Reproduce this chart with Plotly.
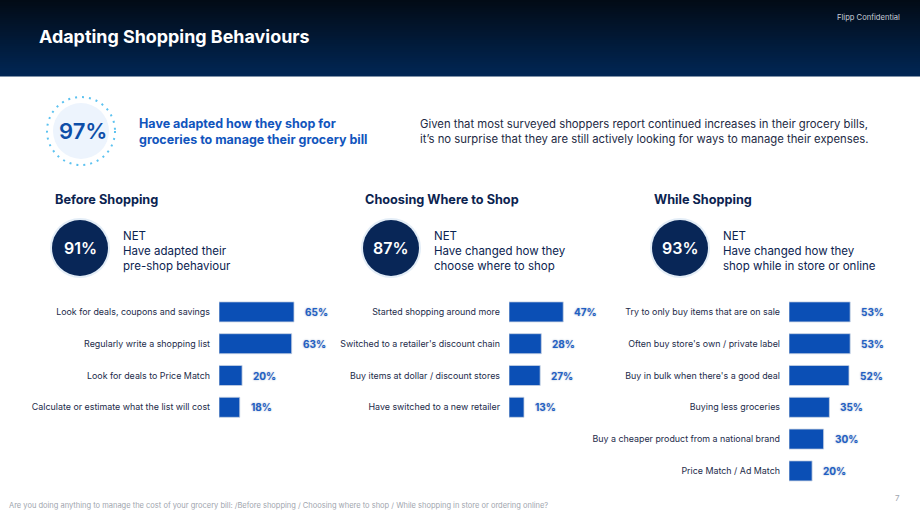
import plotly.graph_objects as go

W, H = 920, 518

# ---------------- data ----------------
before_cats = ["Look for deals, coupons and savings", "Regularly write a shopping list",
               "Look for deals to Price Match", "Calculate or estimate what the list will cost"]
before_vals = [65, 63, 20, 18]

where_cats = ["Started shopping around more", "Switched to a retailer's discount chain",
              "Buy items at dollar / discount stores", "Have switched to a new retailer"]
where_vals = [47, 28, 27, 13]

while_cats = ["Try to only buy items that are on sale", "Often buy store's own / private label",
              "Buy in bulk when there's a good deal", "Buying less groceries",
              "Buy a cheaper product from a national brand", "Price Match / Ad Match"]
while_vals = [53, 53, 52, 35, 30, 20]

panel_titles = ["Before Shopping", "Choosing Where to Shop", "While Shopping"]
net_vals = [91, 87, 93]
net_texts = [["NET", "Have adapted their", "pre-shop behaviour"],
             ["NET", "Have changed how they", "choose where to shop"],
             ["NET", "Have changed how they", "shop while in store or online"]]
overall_val = 97

FONT = "Inter"
NAVY = "#0b2350"
BAR = "#0b4fb5"
LBL = "#1f5fc4"

def px(x):
    return x / W

def py(y):
    return 1 - y / H

fig = go.Figure()

panels = [(before_cats, before_vals, 219), (where_cats, where_vals, 509), (while_cats, while_vals, 789)]
pitch = 31.8
top = 296
scale = 1.154  # px per percent
annotations = []
for i, (cats, vals, x0) in enumerate(panels):
    n = len(cats)
    xa = "x" if i == 0 else f"x{i+1}"
    ya = "y" if i == 0 else f"y{i+1}"
    fig.add_trace(go.Bar(x=vals, y=cats, orientation="h", xaxis=xa, yaxis=ya,
                         marker=dict(color=BAR, line=dict(color="#c8d2e2", width=0.8)),
                         width=0.63, hoverinfo="skip", showlegend=False))
    lay_x = "xaxis" if i == 0 else f"xaxis{i+1}"
    lay_y = "yaxis" if i == 0 else f"yaxis{i+1}"
    fig.layout[lay_x] = dict(domain=[px(x0), px(x0 + 100 * scale)], range=[0, 100],
                             visible=False, fixedrange=True)
    fig.layout[lay_y] = dict(domain=[py(top + n * pitch), py(top)], type="category",
                             categoryorder="array", categoryarray=cats[::-1],
                             showgrid=False, zeroline=False, showline=False,
                             ticks="", ticklabelstandoff=8, anchor=xa,
                             tickfont=dict(family=FONT, size=8.9, color="#1c2b4a"),
                             fixedrange=True)
    for c, v in zip(cats, vals):
        annotations.append(dict(x=v, y=c, xref=xa, yref=ya, text=f"<b>{v}%</b>",
                                xanchor="left", xshift=9, showarrow=False,
                                font=dict(family=FONT, size=10, color=LBL,
                                          shadow="0px 0px 2px #9fb0c8")))

shapes = []
# header gradient
c_top = (2, 11, 22)
c_bot = (1, 38, 84)
nb = 38
hh = 76
for k in range(nb):
    t = k / (nb - 1)
    col = tuple(int(round(c_top[j] + (c_bot[j] - c_top[j]) * t)) for j in range(3))
    shapes.append(dict(type="rect", xref="paper", yref="paper",
                       x0=0, x1=1, y0=py(hh * (k + 1) / nb + 0.5), y1=py(hh * k / nb),
                       fillcolor="rgb(%d,%d,%d)" % col, line=dict(width=0), layer="below"))

# big 97% circle
cx, cy = 81, 131
shapes.append(dict(type="circle", xref="paper", yref="paper",
                   x0=px(cx - 28), x1=px(cx + 28), y0=py(cy + 28), y1=py(cy - 28),
                   fillcolor="#edf4fd", line=dict(width=0)))
shapes.append(dict(type="circle", xref="paper", yref="paper",
                   x0=px(cx - 34), x1=px(cx + 34), y0=py(cy + 34), y1=py(cy - 34),
                   fillcolor="rgba(0,0,0,0)", line=dict(width=2, color="#5cc2f0", dash="2px,5px")))

annotations.append(dict(x=px(cx + 2), y=py(cy), xref="paper", yref="paper", text=f"{overall_val}%",
                        showarrow=False, xanchor="center", yanchor="middle",
                        font=dict(family=FONT, size=22, color="#0d4ea8", weight=600)))
annotations.append(dict(x=px(137), y=py(132), xref="paper", yref="paper",
                        text="<b>Have adapted how they shop for<br>groceries to manage their grocery bill</b>",
                        showarrow=False, xanchor="left", yanchor="middle", align="left",
                        font=dict(family=FONT, size=12.5, color="#1155bd")))
annotations.append(dict(x=px(418), y=py(131), xref="paper", yref="paper",
                        text="Given that most surveyed shoppers report continued increases in their grocery bills,<br>"
                             "it\u2019s no surprise that they are still actively looking for ways to manage their expenses.",
                        showarrow=False, xanchor="left", yanchor="middle", align="left",
                        font=dict(family=FONT, size=11.3, color="#1d2a44")))

# panel headers and NET circles
hx = [53, 363, 652]
ncx = [80, 391, 680]
for i in range(3):
    annotations.append(dict(x=px(hx[i]), y=py(199), xref="paper", yref="paper",
                            text=f"<b>{panel_titles[i]}</b>", showarrow=False,
                            xanchor="left", yanchor="middle",
                            font=dict(family=FONT, size=12.7, color=NAVY)))
    c = ncx[i]
    shapes.append(dict(type="circle", xref="paper", yref="paper",
                       x0=px(c - 30), x1=px(c + 30), y0=py(248 + 30), y1=py(248 - 30),
                       fillcolor="#e3edf7", line=dict(width=0)))
    shapes.append(dict(type="circle", xref="paper", yref="paper",
                       x0=px(c - 28), x1=px(c + 28), y0=py(248 + 28), y1=py(248 - 28),
                       fillcolor="#082657", line=dict(width=0)))
    annotations.append(dict(x=px(c), y=py(248), xref="paper", yref="paper",
                            text=f"{net_vals[i]}%", showarrow=False,
                            xanchor="center", yanchor="middle",
                            font=dict(family=FONT, size=16, color="white", weight=600)))
    annotations.append(dict(x=px(c + 41), y=py(251), xref="paper", yref="paper",
                            text="<br>".join(net_texts[i]), showarrow=False,
                            xanchor="left", yanchor="middle", align="left",
                            font=dict(family=FONT, size=11.5, color=NAVY)))

# header texts
annotations.append(dict(x=px(37), y=py(37), xref="paper", yref="paper",
                        text="<b>Adapting Shopping Behaviours</b>", showarrow=False,
                        xanchor="left", yanchor="middle",
                        font=dict(family=FONT, size=17.9, color="white")))
annotations.append(dict(x=px(902), y=py(17), xref="paper", yref="paper",
                        text="Flipp Confidential", showarrow=False,
                        xanchor="right", yanchor="middle",
                        font=dict(family=FONT, size=7.6, color="#c9ced8")))
annotations.append(dict(x=px(7), y=py(505), xref="paper", yref="paper",
                        text="Are you doing anything to manage the cost of your grocery bill: /Before shopping / Choosing where to shop / While shopping in store or ordering online?",
                        showarrow=False, xanchor="left", yanchor="middle",
                        font=dict(family=FONT, size=7.5, color="#a0a5ae")))
annotations.append(dict(x=px(902), y=py(498), xref="paper", yref="paper",
                        text="7", showarrow=False, xanchor="right", yanchor="middle",
                        font=dict(family=FONT, size=8, color="#a0a5ae")))

fig.update_layout(width=W, height=H, margin=dict(l=0, r=0, t=0, b=0),
                  paper_bgcolor="white", plot_bgcolor="rgba(0,0,0,0)",
                  shapes=shapes, annotations=annotations, bargap=0.37,
                  showlegend=False, font=dict(family=FONT))

fig.write_html("out.html", config={"displayModeBar": False})
